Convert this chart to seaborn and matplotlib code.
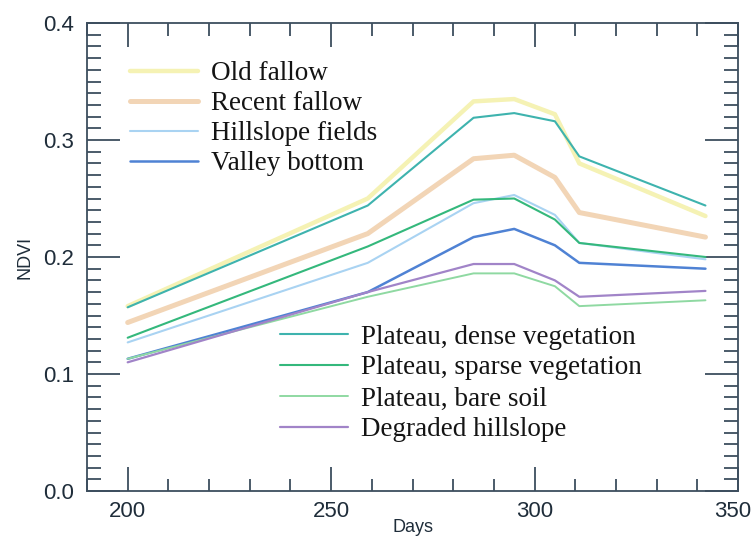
import numpy as np
import pandas as pd
import seaborn as sns
import matplotlib.pyplot as plt
import matplotlib.transforms as mtransforms
from matplotlib.ticker import MultipleLocator

# acquisition days (shared by every class)
days = [200, 259, 285, 295, 305, 311, 342]

old_fallow = [0.158, 0.250, 0.333, 0.335, 0.322, 0.280, 0.235]
recent_fallow = [0.144, 0.220, 0.284, 0.287, 0.268, 0.238, 0.217]
hillslope_fields = [0.127, 0.195, 0.246, 0.253, 0.236, 0.212, 0.198]
valley_bottom = [0.113, 0.170, 0.217, 0.224, 0.210, 0.195, 0.190]
plateau_dense = [0.157, 0.244, 0.319, 0.323, 0.316, 0.286, 0.244]
plateau_sparse = [0.131, 0.209, 0.249, 0.250, 0.232, 0.212, 0.200]
plateau_bare = [0.113, 0.166, 0.186, 0.186, 0.175, 0.158, 0.163]
degraded_hillslope = [0.110, 0.170, 0.194, 0.194, 0.180, 0.166, 0.171]

series = {
    "Old fallow": old_fallow,
    "Recent fallow": recent_fallow,
    "Hillslope fields": hillslope_fields,
    "Valley bottom": valley_bottom,
    "Plateau, dense vegetation": plateau_dense,
    "Plateau, sparse vegetation": plateau_sparse,
    "Plateau, bare soil": plateau_bare,
    "Degraded hillslope": degraded_hillslope,
}

colors = {
    "Old fallow": "#f5f2b4",
    "Recent fallow": "#f2d5b6",
    "Hillslope fields": "#a9d3f2",
    "Valley bottom": "#4f82d4",
    "Plateau, dense vegetation": "#3eb3ae",
    "Plateau, sparse vegetation": "#34b87c",
    "Plateau, bare soil": "#8fd9a2",
    "Degraded hillslope": "#a184c8",
}
widths = {
    "Old fallow": 3.2,
    "Recent fallow": 3.6,
    "Hillslope fields": 1.5,
    "Valley bottom": 1.8,
    "Plateau, dense vegetation": 1.5,
    "Plateau, sparse vegetation": 1.5,
    "Plateau, bare soil": 1.4,
    "Degraded hillslope": 1.6,
}

df = pd.concat(
    [pd.DataFrame({"Days": days, "NDVI": v, "class": k}) for k, v in series.items()],
    ignore_index=True,
)

sns.set_style("ticks")
plt.rcParams["font.family"] = ["Liberation Sans", "DejaVu Sans"]

fig = plt.figure(figsize=(7.53, 5.37), dpi=100)
ax = fig.add_axes([87 / 753, 1 - 491 / 537, (738 - 87) / 753, (491 - 23) / 537])

handles = {}
for name in series:
    sub = df[df["class"] == name]
    sns.lineplot(data=sub, x="Days", y="NDVI", ax=ax, color=colors[name],
                 linewidth=widths[name], label=name, legend=False)
    handles[name] = ax.get_lines()[-1]

ax.set_xlim(190, 350)
ax.set_ylim(0.0, 0.4)
ax.xaxis.set_major_locator(MultipleLocator(50))
ax.xaxis.set_minor_locator(MultipleLocator(10))
ax.yaxis.set_major_locator(MultipleLocator(0.1))
ax.yaxis.set_minor_locator(MultipleLocator(0.01))
ax.yaxis.set_major_formatter(plt.FuncFormatter(lambda v, p: f"{v:.1f}"))

axis_col = "#3d4e5e"
for s in ax.spines.values():
    s.set_color(axis_col)
    s.set_linewidth(1.3)
ax.tick_params(axis="both", which="both", direction="in", top=True, right=True,
               color=axis_col, width=1.3, labelsize=16, labelcolor="#1f2d3a")
ax.tick_params(axis="x", which="major", length=17, pad=7)
ax.tick_params(axis="x", which="minor", length=9)
ax.tick_params(axis="y", which="major", length=24, pad=9)
ax.tick_params(axis="y", which="minor", length=10)

# keep the "350" label inside the canvas (it sits right at the edge)
fig.canvas.draw()
last = [t for t in ax.get_xticklabels() if t.get_text() == "350"]
for t in last:
    t.set_horizontalalignment("right")
    t.set_transform(t.get_transform() + mtransforms.ScaledTranslation(13 / 100, 0, fig.dpi_scale_trans))

ax.set_xlabel("Days", fontsize=13, color="#1f2d3a", labelpad=-2)
ax.set_ylabel("NDVI", fontsize=13, color="#1f2d3a", labelpad=7)

top_names = ["Old fallow", "Recent fallow", "Hillslope fields", "Valley bottom"]
bot_names = ["Plateau, dense vegetation", "Plateau, sparse vegetation",
             "Plateau, bare soil", "Degraded hillslope"]
leg_kw = dict(frameon=False, handlelength=2.5, handletextpad=0.48,
              borderpad=0, borderaxespad=0, loc="upper left",
              prop={"family": "Liberation Serif", "size": 19.5},
              labelcolor="#141414", bbox_transform=fig.transFigure)
leg1 = ax.legend([handles[n] for n in top_names], top_names, labelspacing=0.18,
                 bbox_to_anchor=(130 / 753, 1 - 61.5 / 537), **leg_kw)
ax.add_artist(leg1)
ax.legend([handles[n] for n in bot_names], bot_names, labelspacing=0.22,
          bbox_to_anchor=(280 / 753, 1 - 324.5 / 537), **leg_kw)

fig.savefig("out.png", dpi=100)
